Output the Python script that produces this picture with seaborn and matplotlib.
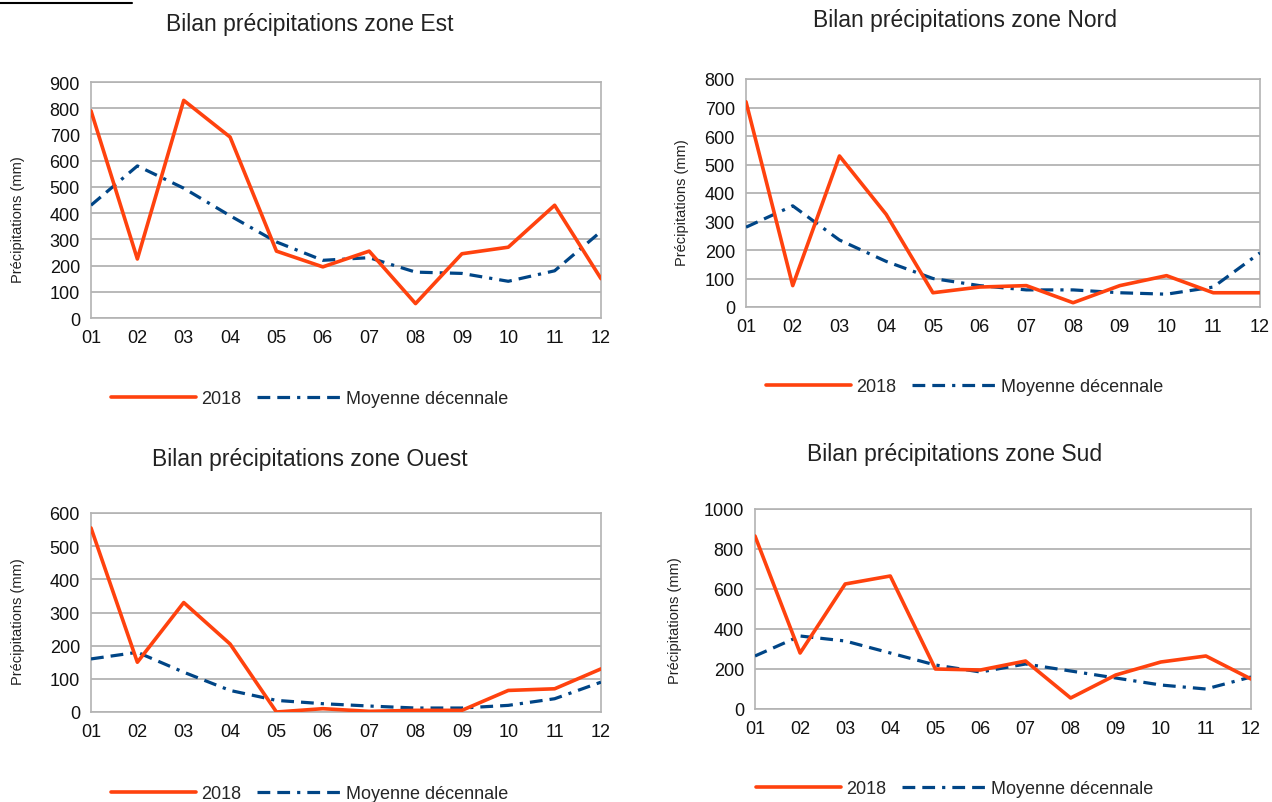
import matplotlib
matplotlib.use("Agg")
import matplotlib.pyplot as plt
from matplotlib.lines import Line2D
import seaborn as sns
import numpy as np

# Données
mois = ["01", "02", "03", "04", "05", "06", "07", "08", "09", "10", "11", "12"]

est_2018 = [790, 225, 830, 690, 255, 195, 255, 55, 245, 270, 430, 150]
est_moy = [430, 580, 495, 390, 290, 220, 230, 175, 170, 140, 180, 330]

nord_2018 = [720, 75, 530, 325, 50, 70, 75, 15, 75, 110, 50, 50]
nord_moy = [280, 355, 235, 160, 100, 75, 60, 60, 50, 45, 70, 190]

ouest_2018 = [555, 150, 330, 205, 0, 10, 2, 5, 5, 65, 70, 130]
ouest_moy = [160, 180, 120, 65, 35, 25, 18, 12, 12, 20, 40, 90]

sud_2018 = [865, 280, 625, 665, 200, 195, 240, 55, 170, 235, 265, 150]
sud_moy = [265, 365, 340, 280, 220, 185, 225, 190, 155, 120, 100, 160]

sns.set_style("white")
plt.rcParams['font.family'] = ['Liberation Sans', 'DejaVu Sans']

ORANGE = "#ff420e"
BLEU = "#004586"
GRIS = "#b3b3b3"
W, H = 1272, 803

fig = plt.figure(figsize=(W / 100, H / 100), dpi=100)


def fx(px):
    return px / W


def fy(py):
    return 1 - py / H


def panneau(rect, y2018, ymoy, ymax, pas, titre, centre, titre_y, leg_y, lab):
    x0, y0, x1, y1 = rect
    ax = fig.add_axes([fx(x0), fy(y1), fx(x1) - fx(x0), fy(y0) - fy(y1)])
    x = np.arange(len(mois))
    sns.lineplot(x=x, y=ymoy, ax=ax, color=BLEU, lw=2.3,
                 linestyle=(0, (4, 2.2, 4, 2.2, 1, 2.2)), label="Moyenne décennale", zorder=3)
    sns.lineplot(x=x, y=y2018, ax=ax, color=ORANGE, lw=2.6, label="2018", zorder=4)
    ax.set_xlim(0, len(mois) - 1)
    ax.set_ylim(0, ymax)
    ax.set_xticks(x)
    ax.set_xticklabels(mois)
    ax.set_yticks(np.arange(0, ymax + 1, pas))
    ax.tick_params(axis='both', labelsize=13, length=5, color=GRIS, width=1.2,
                   direction='out', pad=3, labelcolor="#111111")
    ax.grid(axis='y', color=GRIS, lw=1.3)
    for s in ax.spines.values():
        s.set_color(GRIS)
        s.set_linewidth(1.2)
    ax.set_ylabel("Précipitations (mm)", fontsize=10.5, color="#222222")
    ax.yaxis.set_label_coords(lab[0], lab[1])
    fig.text(fx(centre), fy(titre_y), titre, ha='center', va='center', fontsize=16.5, color="#222222")
    h, l = ax.get_legend_handles_labels()
    ax.legend(h[::-1], l[::-1], loc='center', bbox_to_anchor=(fx(centre), fy(leg_y)),
              bbox_transform=fig.transFigure, ncol=2, frameon=False, fontsize=13,
              handlelength=4.7, columnspacing=0.9, handletextpad=0.25)
    return ax


panneau((91, 83, 601, 319), est_2018, est_moy, 900, 100,
        "Bilan précipitations zone Est", 310, 25, 400, (-0.13, 0.42))
panneau((746, 80, 1260, 308), nord_2018, nord_moy, 800, 100,
        "Bilan précipitations zone Nord", 965, 20, 388, (-0.11, 0.46))
panneau((91, 514, 601, 713), ouest_2018, ouest_moy, 600, 100,
        "Bilan précipitations zone Ouest", 310, 460, 795, (-0.13, 0.457))
panneau((755, 510, 1251, 710), sud_2018, sud_moy, 1000, 200,
        "Bilan précipitations zone Sud", 955, 455, 790, (-0.147, 0.445))

# trait noir en haut à gauche
fig.add_artist(Line2D([0, fx(132)], [fy(4), fy(4)], color="black", lw=1.5,
                      transform=fig.transFigure))

fig.savefig("out.png", dpi=100)
